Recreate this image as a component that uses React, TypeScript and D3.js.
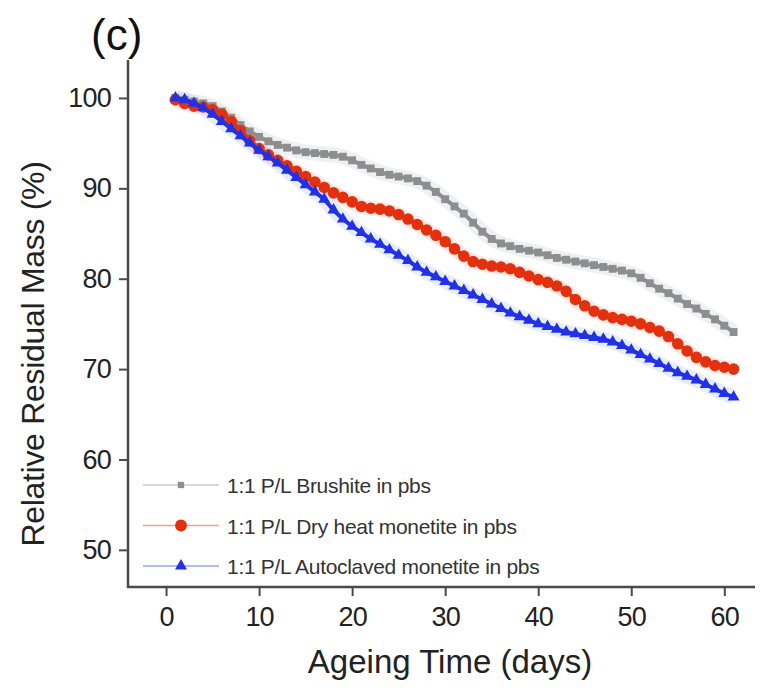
import { useEffect, useRef } from 'react';
import * as d3 from 'd3';

// ageing days 1..61
const days = d3.range(1, 62);

const brushite = [
  100.0, 99.8, 99.6, 99.4, 99.1, 98.5, 97.8, 97.0, 96.3, 95.7,
  95.2, 94.8, 94.5, 94.2, 94.0, 93.9, 93.8, 93.7, 93.5, 93.1,
  92.6, 92.2, 91.8, 91.5, 91.3, 91.1, 90.8, 90.3, 89.6, 88.8,
  88.0, 87.2, 86.2, 85.2, 84.4, 83.9, 83.6, 83.3, 83.1, 82.9,
  82.6, 82.3, 82.1, 81.9, 81.7, 81.5, 81.3, 81.1, 80.9, 80.6,
  80.1, 79.5, 78.9, 78.4, 77.8, 77.2, 76.7, 76.1, 75.5, 74.8,
  74.1,
];

const dryHeat = [
  99.8, 99.4, 99.1, 99.0, 98.7, 98.2, 97.4, 96.4, 95.3, 94.4,
  93.7, 93.1, 92.5, 91.9, 91.3, 90.7, 90.1, 89.5, 89.0, 88.5,
  88.0, 87.8, 87.7, 87.5, 87.1, 86.6, 86.0, 85.4, 84.8, 84.1,
  83.3, 82.5, 81.9, 81.6, 81.4, 81.3, 81.1, 80.7, 80.3, 79.9,
  79.6, 79.2, 78.6, 77.7, 77.0, 76.4, 76.0, 75.7, 75.5, 75.3,
  75.0, 74.6, 74.2, 73.6, 72.8, 72.0, 71.3, 70.8, 70.4, 70.2,
  70.0,
];

const autoclaved = [
  100.0, 99.8, 99.4, 98.9, 98.2, 97.4, 96.6, 95.8, 95.0, 94.2,
  93.5, 92.8, 92.0, 91.2, 90.4, 89.6, 88.8, 87.6, 86.6, 85.8,
  85.1, 84.4, 83.8, 83.2, 82.6, 82.0, 81.3, 80.7, 80.2, 79.7,
  79.2, 78.7, 78.2, 77.7, 77.2, 76.7, 76.2, 75.8, 75.4, 75.0,
  74.7, 74.4, 74.1, 73.9, 73.7, 73.5, 73.3, 73.0, 72.6, 72.1,
  71.6, 71.1, 70.6, 70.1, 69.6, 69.2, 68.8, 68.3, 67.8, 67.3,
  66.9,
];

const xTicks = [0, 10, 20, 30, 40, 50, 60];
const yTicks = [50, 60, 70, 80, 90, 100];

const seriesNames = [
  '1:1 P/L Brushite in pbs',
  '1:1 P/L Dry heat monetite in pbs',
  '1:1 P/L Autoclaved monetite in pbs',
];

export default function App() {
  const svgRef = useRef<SVGSVGElement>(null);

  useEffect(() => {
    const width = 761;
    const height = 690;
    const svg = d3.select(svgRef.current);
    svg.selectAll('*').remove();
    svg.attr('width', width).attr('height', height);

    const font = '"Liberation Sans", Arial, sans-serif';
    const axisColor = '#4a4a4a';

    const x = d3.scaleLinear().domain([-4.09, 63.3]).range([128, 755]);
    const y = d3.scaleLinear().domain([46, 104.2]).range([586, 60]);

    const series = [
      { name: seriesNames[0], values: brushite, color: '#8e8e8e', halo: '#d3dcdc', shape: d3.symbolSquare, size: 62, legendSize: 40 },
      { name: seriesNames[1], values: dryHeat, color: '#e3310f', halo: '#f8c8bc', shape: d3.symbolCircle, size: 105, legendSize: 110 },
      { name: seriesNames[2], values: autoclaved, color: '#2230e6', halo: '#c0d2f8', shape: d3.symbolTriangle, size: 62, legendSize: 62 },
    ];

    const line = d3.line<number>()
      .x((_, i) => x(days[i]))
      .y(d => y(d));

    // faint halo standing in for the error spread
    series.forEach(s => {
      svg.append('path')
        .datum(s.values)
        .attr('fill', 'none')
        .attr('stroke', s.halo)
        .attr('stroke-width', 15)
        .attr('stroke-opacity', 0.4)
        .attr('stroke-linejoin', 'round')
        .attr('d', line);
    });

    series.forEach(s => {
      svg.append('path')
        .datum(s.values)
        .attr('fill', 'none')
        .attr('stroke', s.color)
        .attr('stroke-width', 4)
        .attr('d', line);

      const sym = d3.symbol().type(s.shape).size(s.size);
      svg.append('g')
        .selectAll('path')
        .data(s.values)
        .enter()
        .append('path')
        .attr('transform', (d, i) => `translate(${x(days[i])},${y(d)})`)
        .attr('d', sym)
        .attr('fill', s.color);
    });

    // axes
    const yAxis = svg.append('g')
      .attr('transform', 'translate(128,0)')
      .call(d3.axisLeft(y).tickValues(yTicks).tickSize(9).tickPadding(8).tickSizeOuter(0));
    yAxis.select('.domain').remove();
    yAxis.selectAll('line').attr('stroke', axisColor).attr('stroke-width', 2);
    yAxis.selectAll('text')
      .attr('font-family', font)
      .attr('font-size', 27)
      .attr('fill', '#222')
      .attr('letter-spacing', -0.8);

    const xAxis = svg.append('g')
      .attr('transform', 'translate(0,587)')
      .call(d3.axisBottom(x).tickValues(xTicks).tickSize(9).tickPadding(11).tickSizeOuter(0));
    xAxis.select('.domain').remove();
    xAxis.selectAll('line').attr('stroke', axisColor).attr('stroke-width', 2);
    xAxis.selectAll('text')
      .attr('font-family', font)
      .attr('font-size', 27)
      .attr('fill', '#222')
      .attr('letter-spacing', -0.8);

    svg.append('line')
      .attr('x1', 128).attr('x2', 128).attr('y1', 60).attr('y2', 588)
      .attr('stroke', axisColor).attr('stroke-width', 2.5);
    svg.append('line')
      .attr('x1', 127).attr('x2', 755).attr('y1', 587).attr('y2', 587)
      .attr('stroke', axisColor).attr('stroke-width', 2.5);

    // legend
    const legend = svg.append('g').attr('transform', 'translate(143,485)');
    series.forEach((s, i) => {
      const row = legend.append('g').attr('transform', `translate(0,${i * 40.5})`);
      row.append('line')
        .attr('x1', 0).attr('x2', 76).attr('y1', 0).attr('y2', 0)
        .attr('stroke', s.color).attr('stroke-opacity', 0.45).attr('stroke-width', 1.5);
      row.append('path')
        .attr('transform', 'translate(38,0)')
        .attr('d', d3.symbol().type(s.shape).size(s.legendSize)())
        .attr('fill', s.color);
      row.append('text')
        .attr('x', 84)
        .attr('y', 8)
        .attr('font-family', font)
        .attr('font-size', 21)
        .attr('fill', '#333')
        .attr('letter-spacing', -0.3)
        .text(s.name);
    });

    // titles
    svg.append('text')
      .attr('x', 91).attr('y', 50)
      .attr('font-family', font)
      .attr('font-size', 44)
      .attr('fill', '#111')
      .text('(c)');

    svg.append('text')
      .attr('transform', 'translate(44,354) rotate(-90)')
      .attr('text-anchor', 'middle')
      .attr('font-family', font)
      .attr('font-size', 32)
      .attr('fill', '#222')
      .attr('letter-spacing', -0.3)
      .text('Relative Residual Mass (%)');

    svg.append('text')
      .attr('x', 450).attr('y', 673)
      .attr('text-anchor', 'middle')
      .attr('font-family', font)
      .attr('font-size', 33)
      .attr('fill', '#222')
      .text('Ageing Time (days)');
  }, []);

  return (
    <div style={{ position: 'absolute', left: 0, top: 0 }}>
      <svg ref={svgRef} style={{ display: 'block' }}></svg>
    </div>
  );
}
